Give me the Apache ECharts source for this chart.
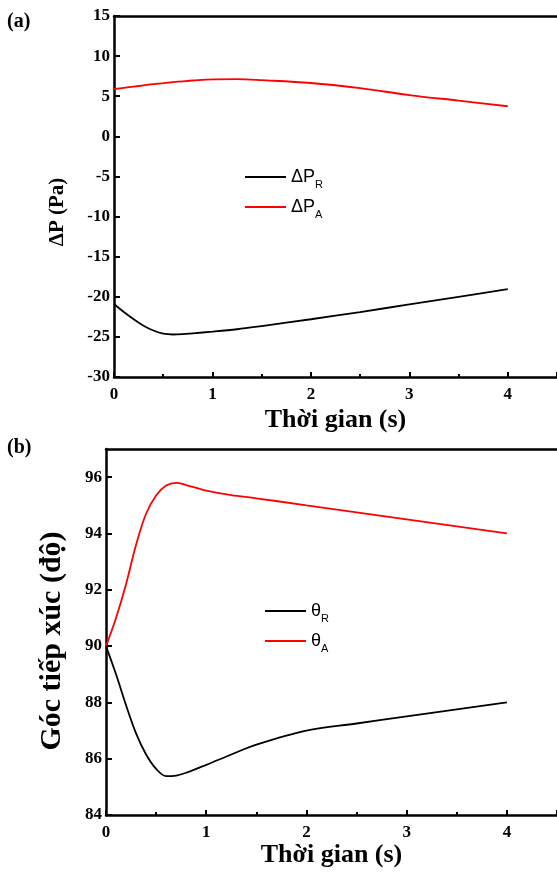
<!DOCTYPE html>
<html>
<head>
<meta charset="utf-8">
<script src="https://cdn.jsdelivr.net/npm/echarts@6/dist/echarts.min.js"></script>
<style>
html, body { margin: 0; padding: 0; background: #fff; }
#chart { width: 557px; height: 877px; }
</style>
</head>
<body>
<div id="chart"></div>
<script>
// (a) pressure difference vs time
const timeA = [0, 0.1, 0.2, 0.3, 0.4, 0.5, 0.6, 0.7, 0.8, 1.0, 1.25, 1.5, 2.0, 2.5, 3.0, 3.5, 4.0];
const dpR = [-20.9, -21.9, -22.8, -23.6, -24.2, -24.6, -24.7, -24.65, -24.55, -24.35, -24.05, -23.65, -22.8, -21.9, -20.95, -20.0, -19.05];
const dpA = [5.9, 6.05, 6.2, 6.35, 6.5, 6.62, 6.75, 6.86, 6.96, 7.1, 7.12, 7.0, 6.65, 6.0, 5.15, 4.45, 3.75];

// (b) contact angle vs time
const timeB = [0, 0.1, 0.2, 0.3, 0.4, 0.5, 0.6, 0.7, 0.8, 1.0, 1.25, 1.5, 2.0, 2.5, 3.0, 3.5, 4.0];
const thetaR = [90, 89.0, 87.9, 86.9, 86.15, 85.64, 85.38, 85.4, 85.5, 85.78, 86.15, 86.5, 87.0, 87.25, 87.5, 87.75, 88.0];
const thetaA = [90, 91.0, 92.2, 93.6, 94.7, 95.35, 95.7, 95.8, 95.72, 95.52, 95.36, 95.25, 95.0, 94.75, 94.5, 94.25, 94.0];

const xName = "Thời gian (s)";
const yNameA = "ΔP (Pa)";
const yNameB = "Góc tiếp xúc (độ)";

function pairs(xs, ys) {
  return xs.map((x, i) => [x, ys[i]]);
}

const serif = "Liberation Serif";
const axisLine = { show: true, onZero: false, lineStyle: { color: "#000", width: 2.5 } };

function bottomX(gridIndex, nameGap) {
  return {
    type: "value",
    gridIndex: gridIndex,
    min: 0,
    max: 4.5,
    interval: 1,
    name: xName,
    nameLocation: "middle",
    nameGap: nameGap,
    nameTextStyle: { fontFamily: serif, fontWeight: "bold", fontSize: 26, color: "#000" },
    axisLine: axisLine,
    axisTick: { show: true, inside: true, length: 5, lineStyle: { color: "#000", width: 2 } },
    minorTick: { show: true, splitNumber: 2, length: 3, lineStyle: { color: "#000", width: 2 } },
    axisLabel: { fontFamily: serif, fontWeight: "bold", fontSize: 17, color: "#000", margin: 9, showMaxLabel: false },
    splitLine: { show: false },
  };
}

function topX(gridIndex) {
  return {
    type: "value",
    gridIndex: gridIndex,
    position: "top",
    min: 0,
    max: 4.5,
    axisLine: axisLine,
    axisTick: { show: false },
    axisLabel: { show: false },
    splitLine: { show: false },
  };
}

function leftY(gridIndex, min, max, interval) {
  return {
    type: "value",
    gridIndex: gridIndex,
    min: min,
    max: max,
    interval: interval,
    axisLine: axisLine,
    axisTick: { show: true, inside: true, length: 6, lineStyle: { color: "#000", width: 2 } },
    axisLabel: { fontFamily: serif, fontWeight: "bold", fontSize: 17, color: "#000", margin: 4, showMaxLabel: max % interval === 0 },
    splitLine: { show: false },
  };
}

function legendAt(gridNames, left, top) {
  return {
    data: gridNames,
    orient: "vertical",
    left: left,
    top: top,
    padding: 0,
    icon: "rect",
    itemWidth: 41,
    itemHeight: 2,
    itemGap: 8,
    formatter: (name) => {
      const parts = name.split("_");
      return "{m|" + parts[0] + "}{s|" + parts[1] + "}";
    },
    textStyle: {
      rich: {
        m: { fontFamily: "Liberation Sans", fontSize: 18, lineHeight: 22, color: "#000", verticalAlign: "middle" },
        s: { fontFamily: "Liberation Sans", fontSize: 11, lineHeight: 11, color: "#000", verticalAlign: "bottom", padding: [0, 0, -2, 0] },
      },
    },
  };
}

function lineSeries(name, xi, yi, data, color) {
  return {
    name: name,
    type: "line",
    xAxisIndex: xi,
    yAxisIndex: yi,
    data: data,
    smooth: 0.35,
    symbol: "none",
    lineStyle: { color: color, width: 1.8 },
    itemStyle: { color: color },
  };
}

const chart = echarts.init(document.getElementById("chart"));
chart.setOption({
  animation: false,
  backgroundColor: "#fff",
  grid: [
    { left: 114, top: 16, width: 445, height: 361 },
    { left: 106, top: 449, width: 451, height: 366 },
  ],
  xAxis: [bottomX(0, 30), topX(0), bottomX(1, 27), topX(1)],
  yAxis: [leftY(0, -30, 15, 5), leftY(1, 84, 97, 2)],
  legend: [legendAt(["ΔP_R", "ΔP_A"], 245, 168), legendAt(["θ_R", "θ_A"], 265, 602)],
  series: [
    lineSeries("ΔP_R", 0, 0, pairs(timeA, dpR), "#000"),
    lineSeries("ΔP_A", 0, 0, pairs(timeA, dpA), "#ff0000"),
    lineSeries("θ_R", 2, 1, pairs(timeB, thetaR), "#000"),
    lineSeries("θ_A", 2, 1, pairs(timeB, thetaA), "#ff0000"),
  ],
  graphic: [
    { type: "text", x: 7, y: 12, style: { text: "(a)", font: "bold 20px 'Liberation Serif'", fill: "#000" } },
    { type: "text", x: 7, y: 438, style: { text: "(b)", font: "bold 20px 'Liberation Serif'", fill: "#000" } },
    {
      type: "text", x: 58, y: 212, rotation: Math.PI / 2,
      style: { text: yNameA, font: "bold 21px 'Liberation Serif'", fill: "#000", align: "center", verticalAlign: "middle" },
    },
    {
      type: "text", x: 52, y: 641, rotation: Math.PI / 2,
      style: { text: yNameB, font: "bold 30px 'Liberation Serif'", fill: "#000", align: "center", verticalAlign: "middle" },
    },
  ],
});
</script>
</body>
</html>
